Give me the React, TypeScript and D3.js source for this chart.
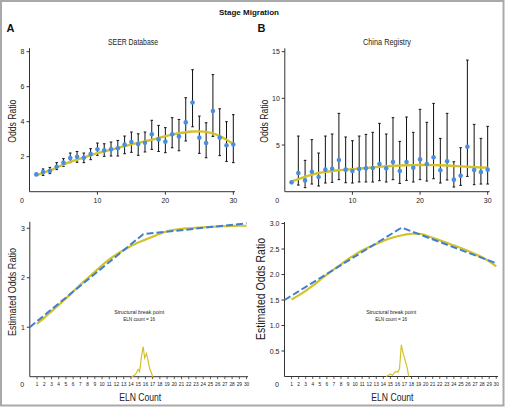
import React from "react";
import * as d3 from "d3";

// ---------- DATA ----------
const elnCounts = [1,2,3,4,5,6,7,8,9,10,11,12,13,14,15,16,17,18,19,20,21,22,23,24,25,26,27,28,29,30];

const seerOR = [0.99,1.12,1.18,1.43,1.66,1.92,2.0,1.94,2.15,2.42,2.36,2.42,2.48,2.69,2.84,2.72,2.8,3.28,2.99,2.86,3.28,3.16,3.96,5.1,3.09,2.78,4.61,3.09,2.65,2.7];
const seerLo = [0.97,0.93,1.03,1.26,1.45,1.66,1.68,1.66,1.83,2.08,2.02,2.04,2.04,2.17,2.25,2.08,2.27,2.42,2.3,2.23,2.51,2.34,2.9,3.71,2.19,1.94,3.16,2.06,1.73,1.66];
const seerHi = [1.01,1.3,1.39,1.66,1.89,2.21,2.3,2.21,2.46,2.78,2.74,2.84,2.93,3.18,3.41,3.31,3.41,4.08,3.79,3.66,4.23,4.13,5.37,6.97,4.32,3.94,6.69,4.74,4.0,4.4];
const seerFit = [0.93,1.07,1.22,1.38,1.55,1.7,1.83,1.95,2.08,2.2,2.3,2.4,2.5,2.6,2.7,2.79,2.88,2.97,3.07,3.17,3.26,3.34,3.4,3.44,3.45,3.42,3.33,3.18,2.97,2.72];

const chinaOR = [1.0,2.0,1.21,2.14,1.57,2.36,2.46,3.39,2.36,2.21,2.43,2.5,2.54,2.96,2.5,3.18,2.21,3.18,2.57,3.46,2.96,3.68,2.29,3.25,1.29,1.71,4.82,2.32,2.11,2.36];
const chinaLo = [0.98,0.71,0.43,0.82,0.61,0.93,1.0,1.29,0.96,0.93,1.04,1.04,1.04,1.18,1.04,1.29,0.89,1.21,1.04,1.29,1.14,1.39,0.93,1.25,0.5,0.68,1.64,0.75,0.82,0.82];
const chinaHi = [1.02,5.96,3.36,5.57,4.14,5.96,6.18,8.39,5.86,5.46,5.96,6.14,6.36,7.32,6.18,7.93,5.39,8.0,6.36,8.82,7.43,9.46,5.71,8.39,3.21,4.71,14.1,7.21,5.71,7.0];
const chinaFit = [1.1,1.35,1.6,1.82,2.0,2.12,2.22,2.3,2.36,2.42,2.48,2.54,2.6,2.66,2.72,2.76,2.8,2.83,2.85,2.86,2.86,2.85,2.83,2.8,2.76,2.71,2.67,2.63,2.6,2.58];

// segmented regression (blue dashed)
const seerSegX = [0, 15.7, 30];
const seerSegY = [1.0, 2.88, 3.1];
const chinaSegX = [0, 16.6, 30];
const chinaSegY = [1.5, 2.92, 2.22];

// smooth estimated odds ratio (yellow)
const seerEst = [1.07,1.19,1.32,1.45,1.58,1.72,1.86,1.99,2.12,2.25,2.37,2.47,2.56,2.64,2.71,2.77,2.83,2.89,2.94,2.97,2.99,3.0,3.01,3.02,3.03,3.035,3.04,3.045,3.05,3.05];
const chinaEst = [1.51,1.59,1.68,1.78,1.89,2.0,2.1,2.2,2.3,2.39,2.47,2.54,2.6,2.66,2.71,2.75,2.78,2.8,2.8,2.77,2.72,2.67,2.62,2.57,2.52,2.46,2.4,2.34,2.26,2.16];

// break point distribution
const seerBreakX = [14.07,14.5,14.76,15.0,15.2,15.45,15.68,15.9,16.15,16.4,16.6,16.85,17.0];
const seerBreakY = [0,0.03,0.08,0.15,0.1,0.4,0.61,0.38,0.47,0.3,0.16,0.07,0];
const chinaBreakX = [14.4,14.8,15.0,15.3,15.6,15.85,16.1,16.3,16.55,16.8,17.05,17.4,17.6];
const chinaBreakY = [0,0.03,0.05,0.02,0.08,0.1,0.09,0.16,0.62,0.46,0.34,0.16,0];

const topXTicks = [10, 20, 30];
const seerYTicks = [2, 4, 6, 8];
const chinaYTicks = [5, 10, 15];
const seerEstTicks = [1, 2, 3];
const chinaEstTicks = [0.5, 1.0, 1.5, 2.0, 2.5, 3.0];

const FONT = "'Liberation Sans', Arial, Helvetica, sans-serif";
const YELLOW = "#d3c22c";
const BLUE = "#4a8ee0";
const DASH = "#3f7fd0";
const AXIS = "#333";

type Scale = d3.ScaleLinear<number, number>;

function TopPanel({ x, y, or, lo, hi, fit, yTicks, title, titleX, labelX, fmt }: any) {
  const line = d3.line<number>().x((_, i) => x(elnCounts[i])).y((d) => y(d)).curve(d3.curveMonotoneX);
  const [x0, x1] = x.range();
  const [y0, y1] = y.range();
  return (
    <g>
      <text x={titleX} y={45} fontSize={8.5} textAnchor="middle" fontFamily={FONT} fill="#222" textLength={title === "SEER Database" ? 50 : 48} lengthAdjust="spacingAndGlyphs">{title}</text>
      <line x1={x0} x2={x0} y1={y0} y2={y1} stroke={AXIS} strokeWidth={1} />
      <line x1={x0} x2={x1} y1={y0} y2={y0} stroke={AXIS} strokeWidth={1} />
      {yTicks.map((t: number) => (
        <g key={t}>
          <line x1={x0 - 3} x2={x0} y1={y(t)} y2={y(t)} stroke={AXIS} />
          <text x={x0 - 5} y={y(t) + 2.5} fontSize={7} textAnchor="end" fontFamily={FONT} fill="#222">{fmt(t)}</text>
        </g>
      ))}
      {topXTicks.map((t) => (
        <g key={t}>
          <line x1={x(t)} x2={x(t)} y1={y0} y2={y0 + 3} stroke={AXIS} />
          <text x={x(t)} y={y0 + 11.5} fontSize={7} textAnchor="middle" fontFamily={FONT} fill="#222">{t}</text>
        </g>
      ))}
      <text x={x(0) - 7.5} y={y0 + 11.5} fontSize={7} textAnchor="middle" fontFamily={FONT} fill="#222">0</text>
      <text transform={`translate(${labelX},${(y(0) + y(yTicks[yTicks.length - 1])) / 2 - 0.5}) rotate(-90)`} fontSize={11} textAnchor="middle" dominantBaseline="central" fontFamily={FONT} fill="#222" textLength={43} lengthAdjust="spacingAndGlyphs">Odds Ratio</text>
      {elnCounts.map((c, i) => (
        <g key={c} stroke="#111" strokeWidth={1}>
          <line x1={x(c)} x2={x(c)} y1={y(lo[i])} y2={y(hi[i])} />
          <line x1={x(c) - 1.3} x2={x(c) + 1.3} y1={y(lo[i])} y2={y(lo[i])} />
          <line x1={x(c) - 1.3} x2={x(c) + 1.3} y1={y(hi[i])} y2={y(hi[i])} />
        </g>
      ))}
      <path d={line(fit) || ""} fill="none" stroke={YELLOW} strokeWidth={2.4} />
      {elnCounts.map((c, i) => (
        <circle key={c} cx={x(c)} cy={y(or[i])} r={2.3} fill={BLUE} />
      ))}
    </g>
  );
}

function BottomPanel({ x, y, segX, segY, est, brX, brY, yTicks, fmt, labelX, labelLen, labelSize, labelY }: any) {
  const [x0, x1] = x.range();
  const [y0, y1] = y.range();
  const estLine = d3.line<number>().x((_, i) => x(elnCounts[i])).y((d) => y(d)).curve(d3.curveMonotoneX);
  const segLine = d3.line<number>().x((_, i) => x(segX[i])).y((d) => y(d));
  const brLine = d3.line<number>().x((_, i) => x(brX[i])).y((d) => y(d));
  const cx = x(16.1);
  return (
    <g>
      <line x1={x0} x2={x0} y1={y0} y2={y1} stroke={AXIS} />
      <line x1={x0} x2={x1} y1={y0} y2={y0} stroke={AXIS} />
      {yTicks.map((t: number) => (
        <g key={t}>
          <line x1={x0 - 3} x2={x0} y1={y(t)} y2={y(t)} stroke={AXIS} />
          <text x={x0 - 5} y={y(t) + 2.5} fontSize={7} textAnchor="end" fontFamily={FONT} fill="#222">{fmt(t)}</text>
        </g>
      ))}
      {elnCounts.map((c) => (
        <g key={c}>
          <line x1={x(c)} x2={x(c)} y1={y0} y2={y0 + 2.5} stroke={AXIS} strokeWidth={0.8} />
          <text x={x(c)} y={y0 + 9.5} fontSize={4.8} textAnchor="middle" fontFamily={FONT} fill="#222">{c}</text>
        </g>
      ))}
      <text x={x(0) - 7.5} y={y0 + 10.5} fontSize={7} textAnchor="middle" fontFamily={FONT} fill="#222">0</text>
      <text x={(x0 + x(30)) / 2 + 2} y={y0 + 24} fontSize={11} textAnchor="middle" fontFamily={FONT} fill="#222" textLength={42} lengthAdjust="spacingAndGlyphs">ELN Count</text>
      <text transform={`translate(${labelX},${labelY}) rotate(-90)`} fontSize={labelSize} textAnchor="middle" dominantBaseline="central" fontFamily={FONT} fill="#222" textLength={labelLen} lengthAdjust="spacingAndGlyphs">Estimated Odds Ratio</text>
      <text x={cx - 7} y={313.5} fontSize={6} textAnchor="middle" fontFamily={FONT} fill="#222" textLength={50} lengthAdjust="spacingAndGlyphs">Structural break point</text>
      <text x={cx - 7} y={321} fontSize={6} textAnchor="middle" fontFamily={FONT} fill="#222" textLength={32} lengthAdjust="spacingAndGlyphs">ELN count = 16</text>
      <path d={brLine(brY) || ""} fill="none" stroke={YELLOW} strokeWidth={1.2} />
      <path d={estLine(est) || ""} fill="none" stroke={YELLOW} strokeWidth={2.2} />
      <path d={segLine(segY) || ""} fill="none" stroke={DASH} strokeWidth={2} strokeDasharray="7,3" />
    </g>
  );
}

export default function App() {
  const xTL: Scale = d3.scaleLinear().domain([0, 30.25]).range([29.5, 235]);
  const yTL: Scale = d3.scaleLinear().domain([0, 8.2]).range([191.7, 48.2]);
  const xTR: Scale = d3.scaleLinear().domain([0, 30.3]).range([284.8, 489.7]);
  const yTR: Scale = d3.scaleLinear().domain([0, 15.36]).range([191.7, 48.3]);
  const xBL: Scale = d3.scaleLinear().domain([0, 30.2]).range([29.8, 248]);
  const yBL: Scale = d3.scaleLinear().domain([0, 3.13]).range([376.7, 221.8]);
  const xBR: Scale = d3.scaleLinear().domain([0, 30.25]).range([284.5, 498]);
  const yBR: Scale = d3.scaleLinear().domain([0, 3.03]).range([376.5, 222]);

  return (
    <svg width={506} height={407} style={{ position: "absolute", left: 0, top: 0, background: "#fff" }}>
      <rect x={0} y={0} width={506} height={407} fill="#fff" />
      <rect x={1} y={1} width={502.5} height={404.5} fill="none" stroke="#a9a9a9" strokeWidth={2} />
      <text x={249} y={14.5} fontSize={8} fontWeight="bold" textAnchor="middle" fontFamily={FONT} fill="#111">Stage Migration</text>
      <text x={6.5} y={32} fontSize={11} fontWeight="bold" fontFamily={FONT} fill="#111">A</text>
      <text x={257.5} y={32} fontSize={11} fontWeight="bold" fontFamily={FONT} fill="#111">B</text>

      <TopPanel x={xTL} y={yTL} or={seerOR} lo={seerLo} hi={seerHi} fit={seerFit} yTicks={seerYTicks}
        title="SEER Database" titleX={133} labelX={12} fmt={(t: number) => String(t)} />
      <TopPanel x={xTR} y={yTR} or={chinaOR} lo={chinaLo} hi={chinaHi} fit={chinaFit} yTicks={chinaYTicks}
        title="China Registry" titleX={387} labelX={264} fmt={(t: number) => String(t)} />

      <BottomPanel x={xBL} y={yBL} segX={seerSegX} segY={seerSegY} est={seerEst} brX={seerBreakX} brY={seerBreakY}
        yTicks={seerEstTicks} fmt={(t: number) => String(t)} labelX={12} labelLen={88} labelSize={11} labelY={292} />
      <BottomPanel x={xBR} y={yBR} segX={chinaSegX} segY={chinaSegY} est={chinaEst} brX={chinaBreakX} brY={chinaBreakY}
        yTicks={chinaEstTicks} fmt={(t: number) => t.toFixed(1)} labelX={261} labelLen={102} labelSize={12} labelY={289} />
    </svg>
  );
}
